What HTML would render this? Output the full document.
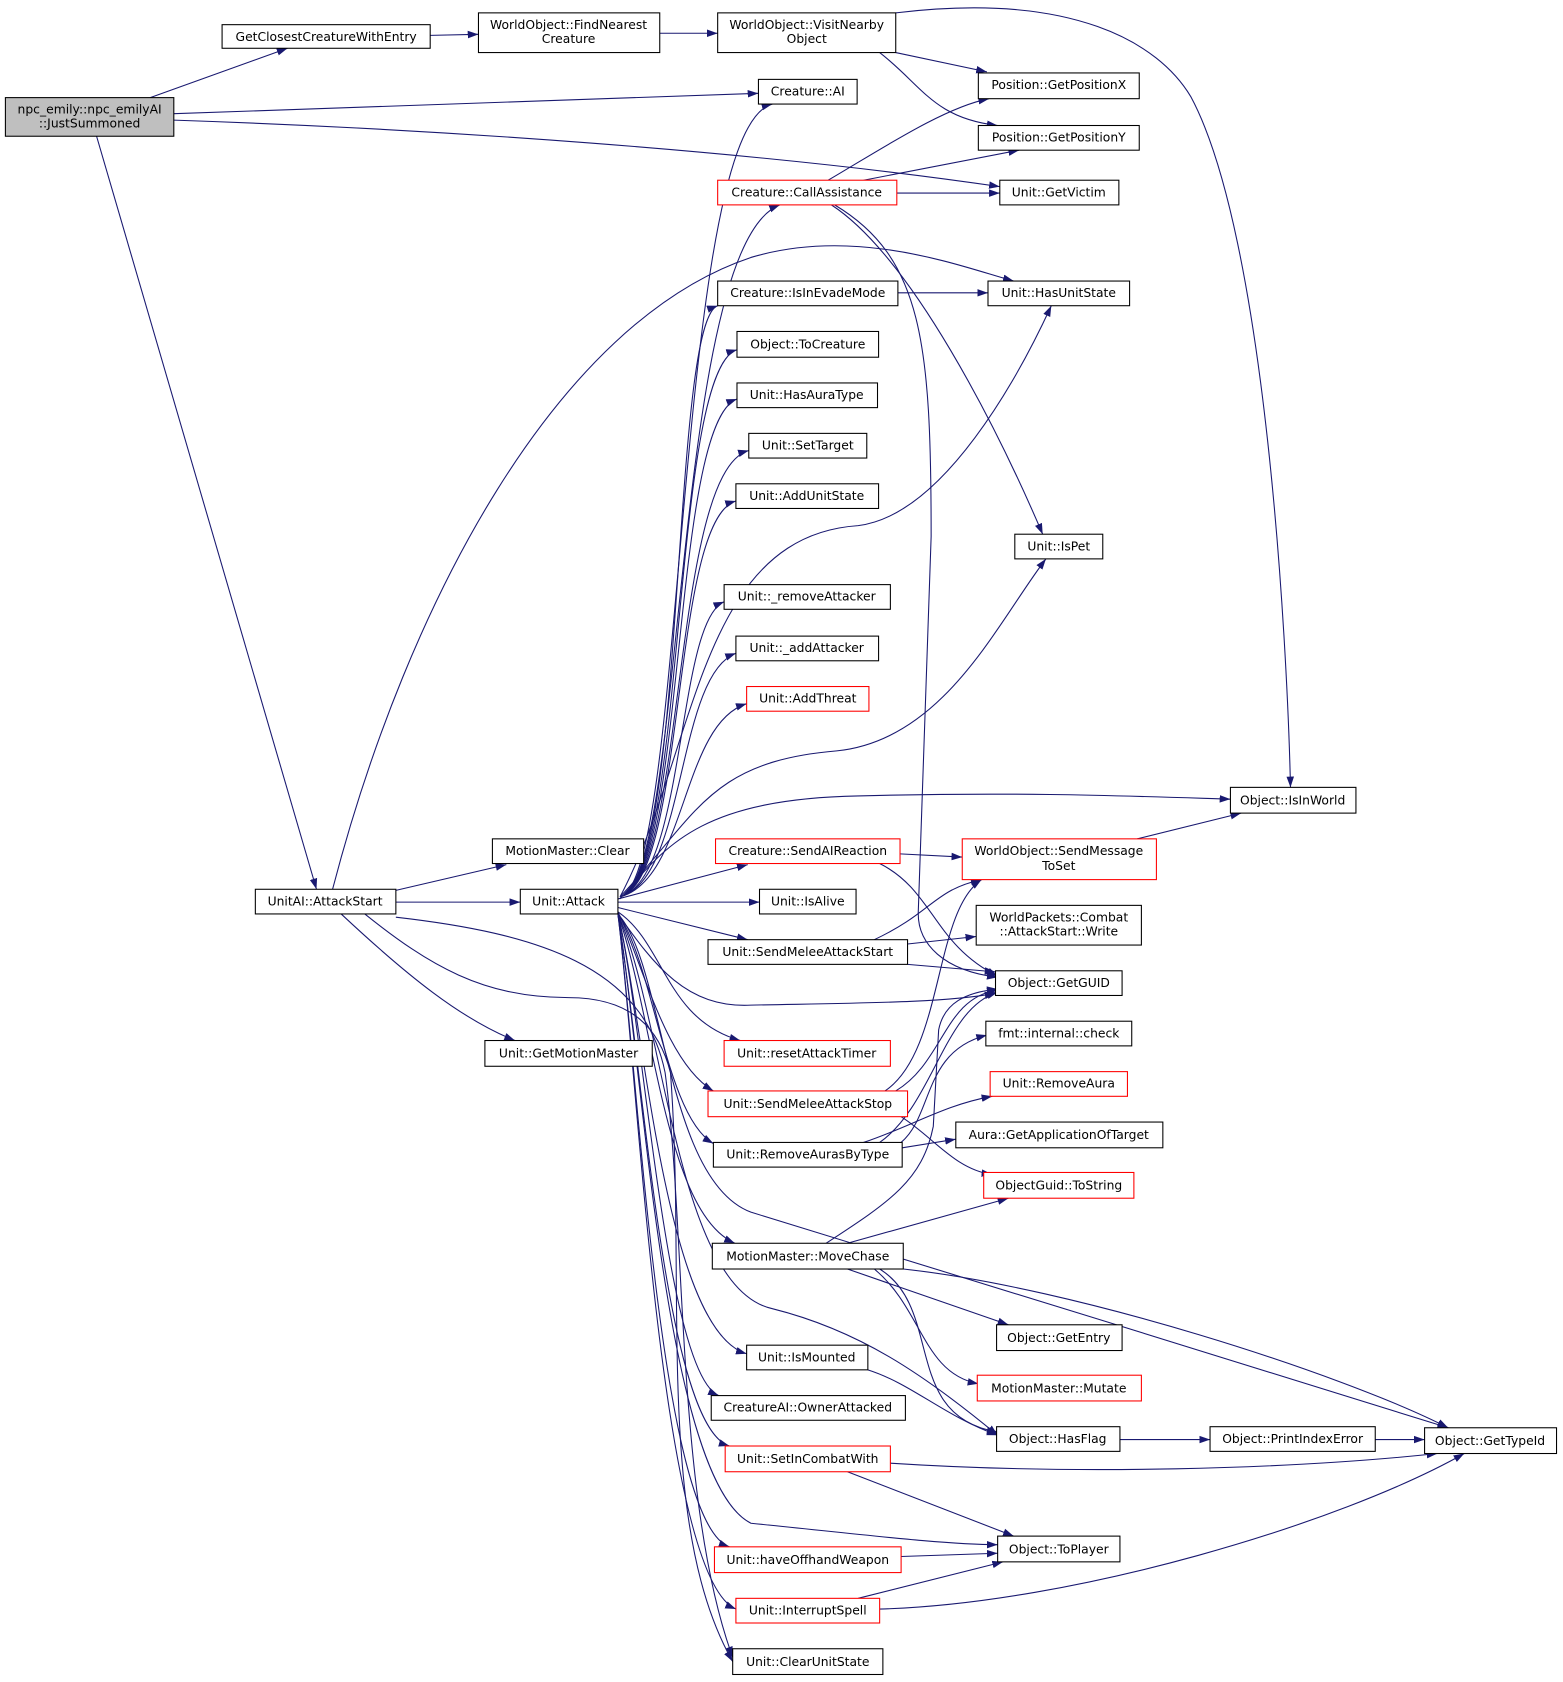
<!DOCTYPE html>
<html><head><meta charset="utf-8"><style>
html,body{margin:0;padding:0;background:#fff;}
svg{display:block}
text{font-family:"DejaVu Sans","Liberation Sans",sans-serif;font-size:11.5px;text-anchor:middle;fill:#000}
.n{fill:#fff;stroke:#000;stroke-width:1}
.r{fill:#fff;stroke:#f00;stroke-width:1}
.e{fill:none;stroke:#191970;stroke-width:1}
</style></head><body>
<svg width="1563" height="1682" viewBox="0 0 1457 1568" xmlns="http://www.w3.org/2000/svg">
<defs><marker id="a" viewBox="0 0 10 10" refX="10" refY="5" markerWidth="10" markerHeight="10" markerUnits="userSpaceOnUse" orient="auto"><path d="M0,1.5L10,5L0,8.5z" fill="#191970"/></marker></defs>
<g class="e" marker-end="url(#a)">
<path d="M140,91L268,45"/>
<path d="M162,106L707,87"/>
<path d="M162,112C400,120 700,140 932,174"/>
<path d="M90,127L295,829"/>
<path d="M401,33L446,32"/>
<path d="M615,31L669,31"/>
<path d="M835,49L920,67"/>
<path d="M820,49C860,80 870,110 930,117"/>
<path d="M835,12C1000,-8 1080,40 1110,90C1180,220 1200,600 1203,734"/>
<path d="M772,168C820,140 880,100 922,92"/>
<path d="M805,168L950,140"/>
<path d="M836,180L932,180"/>
<path d="M775,191C850,240 930,400 972,498"/>
<path d="M778,191C860,240 868,320 868,500L856,850C855,880 880,905 930,911"/>
<path d="M837,273L921,273"/>
<path d="M310,829C380,560 520,300 700,240C800,210 900,250 945,262"/>
<path d="M369,830L472,806"/>
<path d="M369,841L485,841"/>
<path d="M318,852C380,910 430,950 480,970"/>
<path d="M369,855C500,870 600,900 620,1000C640,1150 630,1400 683,1545"/>
<path d="M340,852C400,900 450,930 530,930C590,930 615,960 625,1000C640,1200 610,1420 683,1549"/>
<path d="M578,836C640,820 628,120 720,97"/>
<path d="M578,836C640,820 625,230 727,191"/>
<path d="M578,836C640,820 625,300 669,285"/>
<path d="M578,836C640,820 625,345 687,326"/>
<path d="M578,836C640,820 625,395 687,372"/>
<path d="M578,836C640,820 625,440 698,420"/>
<path d="M578,836C640,820 625,485 686,467"/>
<path d="M578,836C640,820 630,580 675,561"/>
<path d="M578,836C640,820 630,630 686,609"/>
<path d="M578,836C640,820 635,675 696,656"/>
<path d="M578,836C650,700 650,500 800,490C880,480 950,350 980,285"/>
<path d="M578,836C650,760 660,710 780,700C880,690 930,580 975,521"/>
<path d="M578,838C620,790 650,745 800,742C950,738 1050,742 1147,745"/>
<path d="M576,838L697,806"/>
<path d="M576,841L708,841"/>
<path d="M576,846L697,876"/>
<path d="M576,852C610,900 640,940 700,937C800,935 880,935 928,926"/>
<path d="M576,850C620,880 620,950 690,970"/>
<path d="M576,850C600,900 620,990 665,1017"/>
<path d="M576,852C610,900 620,1040 665,1066"/>
<path d="M576,852C610,950 620,1130 685,1159"/>
<path d="M576,852C600,950 620,1240 696,1262"/>
<path d="M576,852C600,950 620,1280 670,1301"/>
<path d="M576,852C600,1000 620,1330 680,1348"/>
<path d="M576,852C595,1000 615,1420 680,1442"/>
<path d="M576,852C595,1000 615,1470 686,1500"/>
<path d="M576,852C620,900 620,1100 700,1130C800,1160 1250,1300 1350,1331"/>
<path d="M576,852C600,1000 620,1380 700,1420C800,1430 880,1440 930,1440"/>
<path d="M576,852C620,950 630,1200 720,1220C800,1240 860,1280 930,1338"/>
<path d="M790,1159L940,1117"/>
<path d="M770,1159C830,1120 860,1100 870,1050L875,960C880,935 900,925 930,922"/>
<path d="M790,1183L940,1235"/>
<path d="M815,1183C860,1220 860,1280 912,1290"/>
<path d="M820,1183C880,1220 840,1320 930,1335"/>
<path d="M842,1183C1000,1200 1250,1280 1350,1331"/>
<path d="M809,1277C850,1290 880,1320 930,1338"/>
<path d="M1044,1342L1128,1342"/>
<path d="M1282,1342L1328,1342"/>
<path d="M830,1364C1000,1375 1200,1370 1340,1355"/>
<path d="M790,1372L945,1432"/>
<path d="M840,1451L930,1448"/>
<path d="M800,1490L935,1456"/>
<path d="M820,1500C1000,1495 1250,1420 1365,1355"/>
<path d="M839,796L897,799"/>
<path d="M820,805C870,830 870,880 930,910"/>
<path d="M1060,782L1157,758"/>
<path d="M815,876C870,850 870,830 915,820"/>
<path d="M846,880L910,873"/>
<path d="M846,899L928,906"/>
<path d="M825,1017C880,980 870,850 915,820"/>
<path d="M835,1017C880,990 880,930 930,923"/>
<path d="M840,1041C870,1060 890,1090 925,1095"/>
<path d="M840,1065C870,1040 860,980 920,965"/>
<path d="M805,1065C850,1050 880,1030 925,1022"/>
<path d="M841,1070L891,1062"/>
<path d="M820,1065C870,1030 880,940 930,925"/>
</g>
<rect x="5" y="91" width="157" height="36" fill="#bfbfbf" stroke="#000"/>
<text x="83.5" y="106">npc_emily::npc_emilyAI</text><text x="83.5" y="119">::JustSummoned</text>
<rect class="n" x="207" y="23" width="194" height="22"/><text x="304" y="38">GetClosestCreatureWithEntry</text>
<rect class="n" x="446" y="12" width="169" height="37"/><text x="530" y="27">WorldObject::FindNearest</text><text x="530" y="40">Creature</text>
<rect class="n" x="669" y="12" width="166" height="37"/><text x="752" y="27">WorldObject::VisitNearby</text><text x="752" y="40">Object</text>
<rect class="n" x="707" y="74" width="92" height="23"/><text x="753" y="89">Creature::AI</text>
<rect class="n" x="912" y="68" width="150" height="24"/><text x="987" y="83">Position::GetPositionX</text>
<rect class="n" x="912" y="117" width="150" height="23"/><text x="987" y="132">Position::GetPositionY</text>
<rect class="r" x="669" y="168" width="167" height="23"/><text x="752" y="183">Creature::CallAssistance</text>
<rect class="n" x="932" y="168" width="111" height="23"/><text x="987" y="183">Unit::GetVictim</text>
<rect class="n" x="669" y="262" width="168" height="23"/><text x="753" y="277">Creature::IsInEvadeMode</text>
<rect class="n" x="921" y="262" width="132" height="23"/><text x="987" y="277">Unit::HasUnitState</text>
<rect class="n" x="687" y="309" width="132" height="24"/><text x="753" y="325">Object::ToCreature</text>
<rect class="n" x="687" y="357" width="131" height="23"/><text x="752" y="372">Unit::HasAuraType</text>
<rect class="n" x="698" y="404" width="110" height="23"/><text x="753" y="419">Unit::SetTarget</text>
<rect class="n" x="686" y="451" width="133" height="23"/><text x="752" y="466">Unit::AddUnitState</text>
<rect class="n" x="946" y="498" width="82" height="23"/><text x="987" y="513">Unit::IsPet</text>
<rect class="n" x="675" y="545" width="155" height="23"/><text x="752" y="560">Unit::_removeAttacker</text>
<rect class="n" x="686" y="593" width="133" height="23"/><text x="752" y="608">Unit::_addAttacker</text>
<rect class="r" x="696" y="640" width="114" height="23"/><text x="753" y="655">Unit::AddThreat</text>
<rect class="n" x="1147" y="734" width="117" height="24"/><text x="1205" y="750">Object::IsInWorld</text>
<rect class="n" x="459" y="782" width="141" height="23"/><text x="529" y="797">MotionMaster::Clear</text>
<rect class="r" x="667" y="782" width="172" height="23"/><text x="753" y="797">Creature::SendAIReaction</text>
<rect class="r" x="897" y="782" width="181" height="38"/><text x="987" y="797">WorldObject::SendMessage</text><text x="987" y="811">ToSet</text>
<rect class="n" x="238" y="829" width="131" height="23"/><text x="303" y="844">UnitAI::AttackStart</text>
<rect class="n" x="485" y="829" width="91" height="23"/><text x="530" y="844">Unit::Attack</text>
<rect class="n" x="708" y="829" width="90" height="23"/><text x="753" y="844">Unit::IsAlive</text>
<rect class="n" x="910" y="844" width="154" height="37"/><text x="987" y="859">WorldPackets::Combat</text><text x="987" y="872">::AttackStart::Write</text>
<rect class="n" x="660" y="876" width="186" height="23"/><text x="753" y="891">Unit::SendMeleeAttackStart</text>
<rect class="n" x="928" y="905" width="118" height="23"/><text x="987" y="920">Object::GetGUID</text>
<rect class="n" x="919" y="952" width="136" height="23"/><text x="987" y="967">fmt::internal::check</text>
<rect class="n" x="452" y="970" width="156" height="24"/><text x="530" y="986">Unit::GetMotionMaster</text>
<rect class="r" x="675" y="970" width="155" height="24"/><text x="752" y="986">Unit::resetAttackTimer</text>
<rect class="r" x="923" y="999" width="128" height="23"/><text x="987" y="1014">Unit::RemoveAura</text>
<rect class="r" x="660" y="1017" width="186" height="24"/><text x="753" y="1033">Unit::SendMeleeAttackStop</text>
<rect class="n" x="891" y="1046" width="193" height="24"/><text x="987" y="1062">Aura::GetApplicationOfTarget</text>
<rect class="n" x="665" y="1065" width="176" height="23"/><text x="753" y="1080">Unit::RemoveAurasByType</text>
<rect class="r" x="917" y="1093" width="140" height="24"/><text x="987" y="1109">ObjectGuid::ToString</text>
<rect class="n" x="664" y="1159" width="178" height="24"/><text x="753" y="1175">MotionMaster::MoveChase</text>
<rect class="n" x="929" y="1235" width="117" height="24"/><text x="987" y="1251">Object::GetEntry</text>
<rect class="n" x="696" y="1254" width="113" height="23"/><text x="752" y="1269">Unit::IsMounted</text>
<rect class="r" x="911" y="1282" width="153" height="24"/><text x="987" y="1298">MotionMaster::Mutate</text>
<rect class="n" x="663" y="1301" width="181" height="23"/><text x="753" y="1316">CreatureAI::OwnerAttacked</text>
<rect class="n" x="929" y="1330" width="115" height="23"/><text x="986" y="1345">Object::HasFlag</text>
<rect class="n" x="1128" y="1330" width="154" height="23"/><text x="1205" y="1345">Object::PrintIndexError</text>
<rect class="n" x="1328" y="1331" width="123" height="24"/><text x="1389" y="1347">Object::GetTypeId</text>
<rect class="r" x="676" y="1348" width="154" height="24"/><text x="753" y="1364">Unit::SetInCombatWith</text>
<rect class="n" x="930" y="1432" width="114" height="24"/><text x="987" y="1448">Object::ToPlayer</text>
<rect class="r" x="666" y="1442" width="174" height="24"/><text x="753" y="1458">Unit::haveOffhandWeapon</text>
<rect class="r" x="686" y="1490" width="134" height="23"/><text x="753" y="1505">Unit::InterruptSpell</text>
<rect class="n" x="683" y="1537" width="140" height="24"/><text x="753" y="1553">Unit::ClearUnitState</text>
</svg>
</body></html>
